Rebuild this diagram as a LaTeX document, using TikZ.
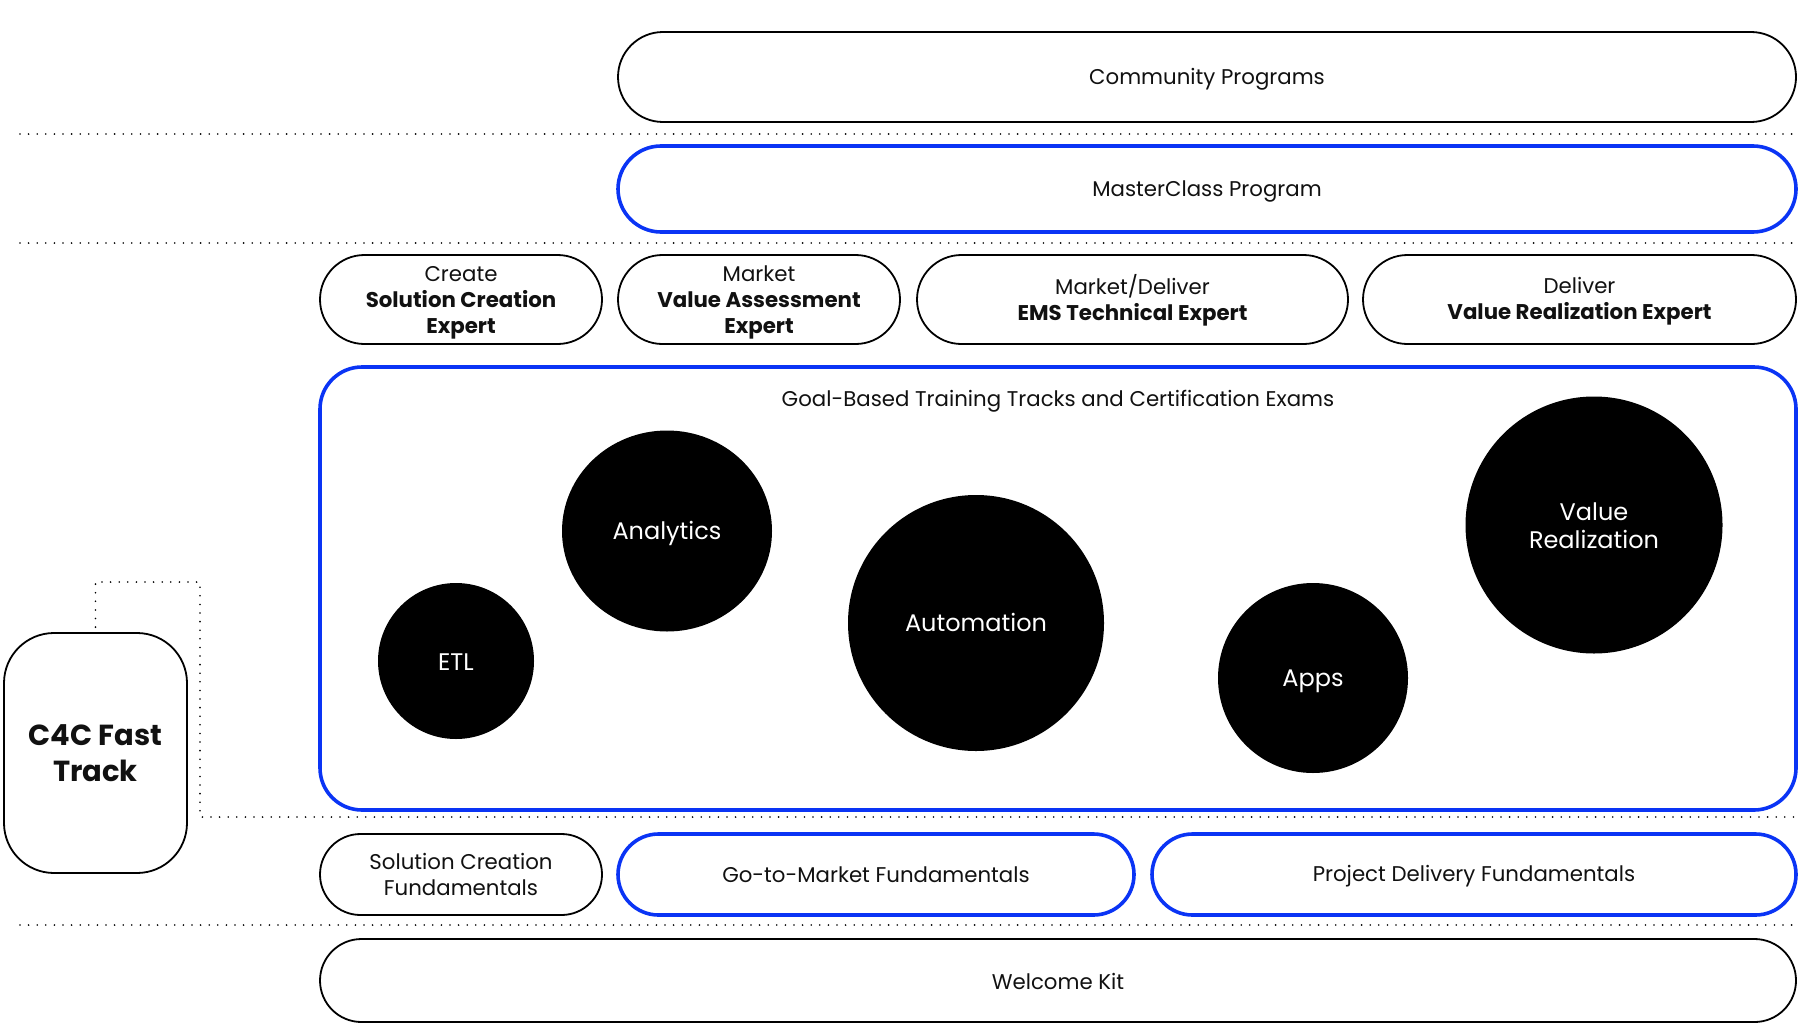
\documentclass[tikz,border=0pt]{standalone}
\usepackage{fontspec}
\setmainfont{Poppins}
\usetikzlibrary{shapes.misc,shapes.geometric}
\definecolor{myblue}{HTML}{0A34F5}
\definecolor{ink}{HTML}{111111}
\tikzset{
  txt/.style={font=\fontsize{21.3}{26}\selectfont, text=ink, align=center, inner sep=0pt},
  pillbox/.style={rounded rectangle, draw=black, line width=1.8pt, txt},
  bluepill/.style={rounded rectangle, draw=myblue, line width=3.6pt, txt},
  bubble/.style={circle, fill=black, draw=none, text=white, align=center,
     font=\fontsize{24}{28}\selectfont, inner sep=0pt},
  bubtext/.style={text=white, align=center, font=\fontsize{24}{28}\selectfont, inner sep=0pt},
  dotline/.style={line width=1.8pt, line cap=round, dash pattern=on 0pt off 8.6pt, black}
}
\begin{document}
\begin{tikzpicture}[x=1pt,y=-1pt]
\useasboundingbox[fill=white] (0,0) rectangle (1798,1025);

% separators
\coordinate (s1a) at (20,134);  \coordinate (s1b) at (1796,134);
\coordinate (s2a) at (20,243);  \coordinate (s2b) at (1796,243);
\coordinate (s4a) at (20,925);  \coordinate (s4b) at (1796,925);
\coordinate (s3b) at (1796,817);
\draw[dotline] (s1a) -- (s1b);
\draw[dotline] (s2a) -- (s2b);
\draw[dotline] (s4a) -- (s4b);

% top rows
\node[pillbox, minimum width=1178pt, minimum height=90pt,
  label={[txt,yshift=-2pt]center:Community Programs}] (comm) at (1207,77) {};
\node[bluepill, minimum width=1178pt, minimum height=86pt,
  label={[txt,yshift=-2pt]center:MasterClass Program}] (master) at (1207,189) {};

% expert row
\node[pillbox, minimum width=282pt, minimum height=89pt,
  label={[txt,yshift=-3pt]center:{Create\\\textbf{Solution Creation}\\\textbf{Expert}}}] (e1) at (461,299.5) {};
\node[pillbox, minimum width=282pt, minimum height=89pt,
  label={[txt,yshift=-3pt]center:{Market\\\textbf{Value Assessment}\\\textbf{Expert}}}] (e2) at (759,299.5) {};
\node[pillbox, minimum width=431pt, minimum height=89pt,
  label={[txt,yshift=-1pt]center:{Market/Deliver\\\textbf{EMS Technical Expert}}}] (e3) at (1132.5,299.5) {};
\node[pillbox, minimum width=433pt, minimum height=89pt,
  label={[txt,yshift=-2pt]center:{Deliver\\\textbf{Value Realization Expert}}}] (e4) at (1579.5,299.5) {};

% goal box
\node[draw=myblue, line width=3.6pt, rounded corners=42pt, minimum width=1476pt,
      minimum height=443pt, inner sep=0pt] (goal) at (1058,588.5) {};
\node[txt] (goaltitle) at (1058,401) {Goal-Based Training Tracks and Certification Exams};

\node[bubble, minimum size=156pt] (etl) at (456,661) {};
\node[bubtext] (etltext) at (456,662) {ETL};
\node[ellipse, fill=black, inner sep=0pt, minimum width=210pt, minimum height=201pt] (analytics) at (667,531) {};
\node[bubtext] (analyticstext) at (667,533) {Analytics};
\node[bubble, minimum size=256pt] (automation) at (976,623) {};
\node[bubtext] (automationtext) at (976,622) {Automation};
\node[bubble, minimum size=190pt] (apps) at (1313,678) {};
\node[bubtext] (appstext) at (1313,681) {Apps};
\node[bubble, minimum size=257pt] (valreal) at (1594,525) {};
\node[bubtext] (valrealtext) at (1594,526) {Value\\Realization};

% C4C fast track
\node[draw=black, line width=1.8pt, rounded corners=50pt, minimum width=183pt,
      minimum height=240pt, align=center, text=ink, inner sep=0pt,
      font=\fontsize{29}{36}\selectfont\bfseries] (c4c) at (95.5,753) {C4C Fast\\Track};
\draw[dotline, shorten <=5pt] (c4c.north) |- (200,582) |- (s3b);

% fundamentals row
\node[pillbox, minimum width=282pt, minimum height=81pt] (f1) at (461,874.5)
  {Solution Creation\\Fundamentals};
\node[bluepill, minimum width=516pt, minimum height=81pt] (f2) at (876,874.5)
  {Go-to-Market Fundamentals};
\node[bluepill, minimum width=644pt, minimum height=81pt,
  label={[txt,yshift=-2pt]center:Project Delivery Fundamentals}] (f3) at (1474,874.5) {};

% welcome kit
\node[pillbox, minimum width=1476pt, minimum height=83pt,
  label={[txt,yshift=-1pt]center:Welcome Kit}] (welcome) at (1058,980.5) {};
\end{tikzpicture}
\end{document}
